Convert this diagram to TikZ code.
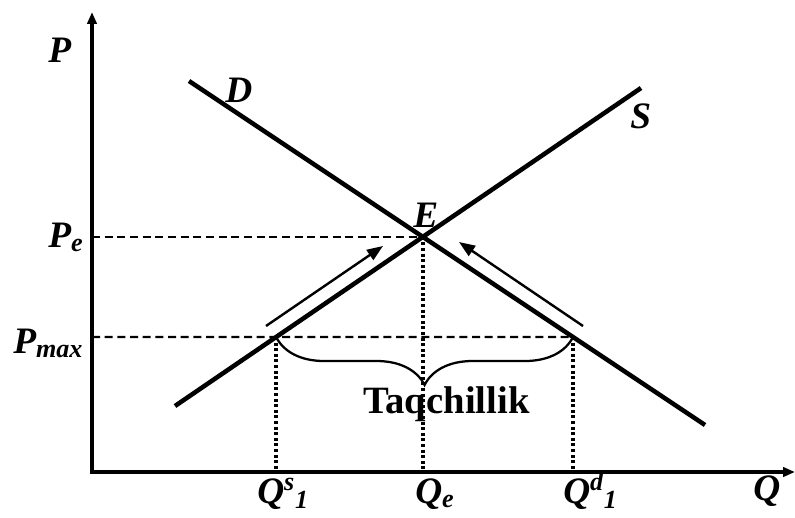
\documentclass[tikz,border=0pt]{standalone}
\usepackage{fontspec}
\setmainfont{Liberation Serif}
\usetikzlibrary{arrows.meta,decorations.pathreplacing}

\begin{document}
\begin{tikzpicture}[x=0.75pt, y=-0.75pt,
  axis/.style={line width=2.5pt, {Triangle[length=9pt, width=7pt]}-{Triangle[length=9pt, width=7pt]}},
  crv/.style={line width=3.4pt},
  move/.style={line width=1.8pt, -{Triangle[length=12pt, width=9pt]}},
  pline/.style={line width=1.7pt, dash pattern=on 6pt off 3.5pt},
  qline/.style={line width=2.5pt, dash pattern=on 2.2pt off 2pt},
  lab/.style={font=\fontsize{28}{30}\selectfont\bfseries\itshape, inner sep=0pt, anchor=base west},
  gap/.style={font=\fontsize{29}{31}\selectfont\bfseries, inner sep=0pt, anchor=base west}]
\useasboundingbox (0,0) rectangle (795,517);
\coordinate (O) at (92,472);
\coordinate (ytop) at (92,12);
\coordinate (xend) at (795,472);
\coordinate (d0) at (189,81);
\coordinate (d1) at (705,425);
\coordinate (s0) at (175,406);
\coordinate (s1) at (641,88);
\coordinate (E) at (intersection of d0--d1 and s0--s1);
\coordinate (A) at (intersection of s0--s1 and 0,337--1,337);
\coordinate (B) at (intersection of d0--d1 and 0,337--1,337);
\coordinate (a1) at (266,326);
\coordinate (a2) at (383,246);
\coordinate (b1) at (583,326);
\coordinate (b2) at (459,242);
\draw[axis] (ytop) |- (xend);
\draw[pline] (O |- E) -- (E);
\draw[pline] (O |- A) -- (B);
\draw[qline] (A) -- (A |- O);
\draw[qline] (E) -- (E |- O);
\draw[qline] (B) -- (B |- O);
\draw[crv] (d0) -- (d1);
\draw[crv] (s0) -- (s1);
\draw[move] (a1) -- (a2);
\draw[move] (b1) -- (b2);
\draw[line width=1.7pt, decorate, decoration={brace, mirror, amplitude=36pt}] (A) -- (B);
\node[lab] (lP) at (48,63) {P};
\node[lab] (lD) at (225,102) {D};
\node[lab] (lS) at (630,128) {S};
\node[lab] (lE) at (413,227) {E};
\node[lab] (lPe) at (48,247) {P\textsubscript{e}};
\node[lab] (lPmax) at (13,353) {P\textsubscript{max}};
\node[lab] (lQs) at (257,503) {Q\textsuperscript{s}\textsubscript{1}};
\node[lab] (lQe) at (415,503) {Q\textsubscript{e}};
\node[lab] (lQd) at (563,503) {Q\textsuperscript{d}\textsubscript{1}};
\node[lab] (lQ) at (753,500) {Q};
\node[gap] (short) at (363,413) {Taqchillik};
\end{tikzpicture}
\end{document}
